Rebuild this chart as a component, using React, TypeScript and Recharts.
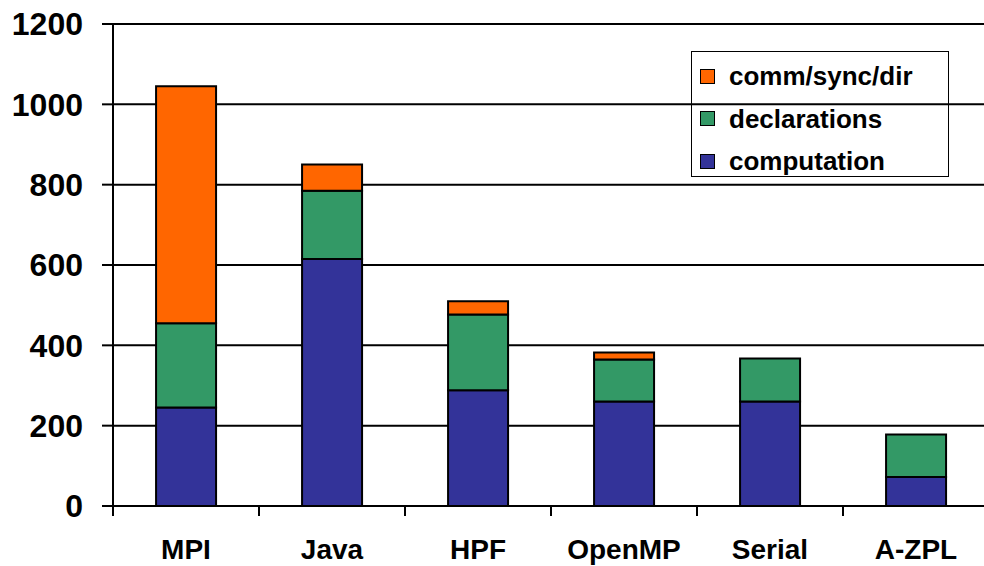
import * as React from "react";
import {
  Bar,
  BarChart,
  CartesianGrid,
  XAxis,
  YAxis,
} from "recharts";

const CATEGORIES = ["MPI", "Java", "HPF", "OpenMP", "Serial", "A-ZPL"];
const COMPUTATION = [245, 615, 288, 260, 260, 72];
const DECLARATIONS = [210, 170, 189, 105, 107, 106];
const COMM_SYNC_DIR = [590, 65, 33, 17, 0, 0];
const Y_TICKS = [0, 200, 400, 600, 800, 1000, 1200];

const SERIES = [
  { key: "computation", label: "computation", color: "#333399" },
  { key: "declarations", label: "declarations", color: "#339966" },
  { key: "comm", label: "comm/sync/dir", color: "#FF6600" },
];

const data = CATEGORIES.map((name, i) => ({
  name,
  computation: COMPUTATION[i],
  declarations: DECLARATIONS[i],
  comm: COMM_SYNC_DIR[i],
}));

const CHART_W = 1000;
const CHART_H = 566;
const Y_AXIS_W = 113;
const PLOT_RIGHT = 989;
const BAND = (PLOT_RIGHT - Y_AXIS_W) / CATEGORIES.length;
const FONT = "'Liberation Sans', Arial, sans-serif";

function CategoryTick(props: any) {
  const { x, y, payload } = props;
  return (
    <g>
      <line x1={x - BAND / 2} y1={y} x2={x - BAND / 2} y2={y + 10} stroke="#000" strokeWidth={2} />
      <text
        x={x}
        y={y + 53}
        textAnchor="middle"
        fontFamily={FONT}
        fontWeight="bold"
        fontSize={28}
        fill="#000"
      >
        {payload.value}
      </text>
    </g>
  );
}

// legend drawn as a plain div over the plot so it doesn't eat chart height
function LegendBox() {
  const rows = [...SERIES].reverse();
  return (
    <div
      style={{
        position: "absolute",
        left: 691,
        top: 51,
        width: 258,
        height: 126,
        border: "1.5px solid #000",
        boxSizing: "border-box",
        padding: "3px 0 0 8px",
        fontFamily: FONT,
        fontWeight: "bold",
        fontSize: 26,
        color: "#000",
      }}
    >
      {rows.map((s) => (
        <div key={s.key} style={{ display: "flex", alignItems: "center", height: 42.5 }}>
          <span
            style={{
              display: "inline-block",
              width: 13,
              height: 13,
              background: s.color,
              border: "1.5px solid #000",
              marginRight: 14,
              flexShrink: 0,
            }}
          />
          <span style={{ lineHeight: "30px", whiteSpace: "nowrap" }}>{s.label}</span>
        </div>
      ))}
    </div>
  );
}

export default function App() {
  return (
    <div style={{ position: "absolute", left: 0, top: 0, width: 984, height: 566, overflow: "hidden", background: "#fff" }}>
      <BarChart
        width={CHART_W}
        height={CHART_H}
        data={data}
        margin={{ top: 24, right: CHART_W - PLOT_RIGHT, left: 0, bottom: 0 }}
        barCategoryGap="29.5%"
      >
        <CartesianGrid vertical={false} stroke="#000" strokeWidth={2} />
        <XAxis
          dataKey="name"
          height={60}
          axisLine={{ stroke: "#000", strokeWidth: 2 }}
          tickLine={false}
          tickSize={0}
          tickMargin={0}
          tick={<CategoryTick />}
          interval={0}
        />
        <YAxis
          width={Y_AXIS_W}
          domain={[0, 1200]}
          ticks={Y_TICKS}
          interval={0}
          axisLine={{ stroke: "#000", strokeWidth: 2 }}
          tickLine={{ stroke: "#000", strokeWidth: 2 }}
          tickSize={11}
          tickMargin={19}
          tick={{ fontFamily: FONT, fontWeight: "bold", fontSize: 32, fill: "#000" }}
        />
        {SERIES.map((s) => (
          <Bar
            key={s.key}
            dataKey={s.key}
            stackId="a"
            fill={s.color}
            stroke="#000"
            strokeWidth={2}
            isAnimationActive={false}
          />
        ))}
      </BarChart>
      <LegendBox />
    </div>
  );
}
